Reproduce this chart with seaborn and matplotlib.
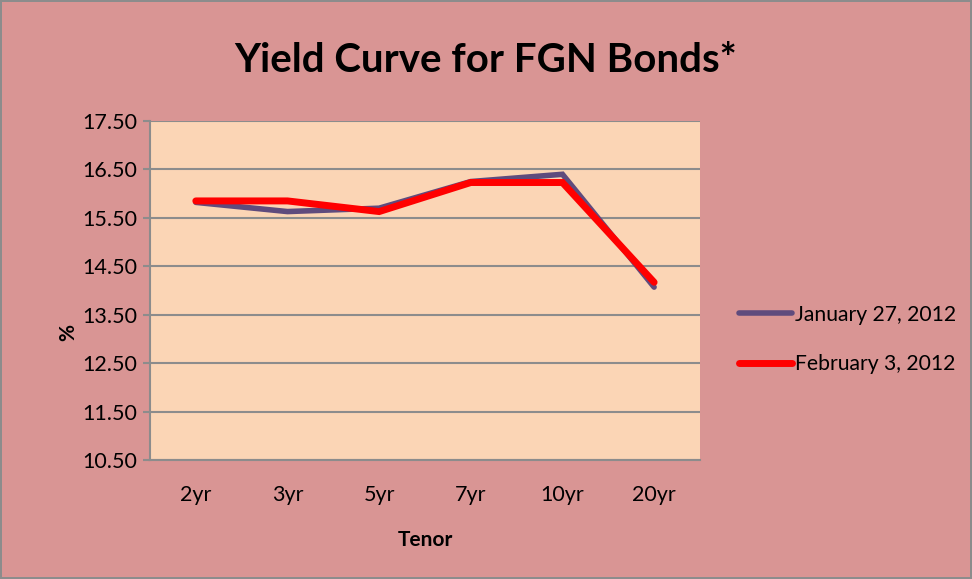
import matplotlib
matplotlib.use("Agg")
import matplotlib.pyplot as plt
import seaborn as sns
import pandas as pd

tenors = ["2yr", "3yr", "5yr", "7yr", "10yr", "20yr"]
jan_27 = [15.82, 15.63, 15.70, 16.25, 16.40, 14.07]
feb_3 = [15.85, 15.85, 15.63, 16.23, 16.23, 14.17]
series_names = ["January 27, 2012", "February 3, 2012"]
yticks = [10.50, 11.50, 12.50, 13.50, 14.50, 15.50, 16.50, 17.50]

df = pd.DataFrame({
    "Tenor": tenors * 2,
    "Yield": jan_27 + feb_3,
    "Series": [series_names[0]] * len(tenors) + [series_names[1]] * len(tenors),
})
df["pos"] = list(range(len(tenors))) * 2

sns.set_style("white")
plt.rcParams["font.family"] = ["Lato", "DejaVu Sans"]
plt.rcParams["text.color"] = "black"
plt.rcParams["xtick.color"] = "black"
plt.rcParams["ytick.color"] = "black"
plt.rcParams["axes.labelcolor"] = "black"

fig = plt.figure(figsize=(9.72, 5.79), dpi=100)
fig.patch.set_facecolor("#D99594")
fig.patch.set_edgecolor("#8C8C8C")
fig.patch.set_linewidth(1.5)
ax = fig.add_axes([0.1543, 0.2055, 0.5658, 0.5855])
ax.set_facecolor("#FBD5B5")

palette = {series_names[0]: "#5F4B7D", series_names[1]: "#FF0000"}
sns.lineplot(data=df, x="pos", y="Yield", hue="Series", palette=palette,
             ax=ax, sort=False, legend=False)
for line, lw in zip(ax.get_lines(), [4.0, 5.0]):
    line.set_linewidth(lw)
    line.set_solid_capstyle("round")
    line.set_solid_joinstyle("miter")

ax.set_xlim(-0.5, len(tenors) - 0.5)
ax.set_ylim(10.50, 17.50)
ax.set_yticks(yticks)
ax.set_yticklabels([f"{v:.2f}" for v in yticks], fontsize=15.5)
ax.set_xticks(range(len(tenors)))
ax.set_xticklabels(tenors, fontsize=15.5)
ax.tick_params(axis="x", length=0, pad=18)
ax.tick_params(axis="y", length=5, color="#8C8C8C", width=1.5, direction="out", pad=4, left=True,
               labelcolor="black")
ax.grid(axis="y", color="#8C8C8C", linewidth=1.5)
ax.set_axisbelow(True)
for s in ["top", "right"]:
    ax.spines[s].set_visible(False)
ax.spines["left"].set_color("#8C8C8C")
ax.spines["left"].set_linewidth(1.5)
ax.spines["bottom"].set_color("#8C8C8C")
ax.spines["bottom"].set_linewidth(1.5)

ax.set_xlabel("Tenor", fontsize=15, fontweight="bold")
ax.xaxis.set_label_coords(0.5, -0.205)
ax.set_ylabel("%", fontsize=15, fontweight="bold")
ax.yaxis.set_label_coords(-0.13, 0.375)

fig.text(0.5, 0.895, "Yield Curve for FGN Bonds*", ha="center", va="center",
         fontsize=29, fontweight="bold", color="black")

handles = [plt.Line2D([], [], color=palette[n], linewidth=4 if i == 0 else 5,
                      solid_capstyle="round") for i, n in enumerate(series_names)]
fig.legend(handles, series_names, loc="center left", bbox_to_anchor=(0.741, 0.414),
           frameon=False, fontsize=15.2, handlelength=2.5, handletextpad=0.15,
           labelspacing=1.4, labelcolor="black")

fig.savefig("out.png", dpi=100, facecolor=fig.get_facecolor(), edgecolor=fig.get_edgecolor())
